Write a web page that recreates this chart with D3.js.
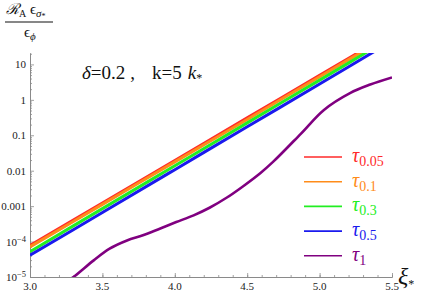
<!DOCTYPE html>
<html>
<head>
<meta charset="utf-8">
<script src="https://cdn.jsdelivr.net/npm/d3@7"></script>
<style>
  body { margin: 0; background: #fff; }
  svg { display: block; }
</style>
</head>
<body>
<div class="canvas"></div>
<script>
'use strict';

// Data
var xiStraight = [3.0, 3.5, 4.0, 4.5, 5.0, 5.5];
var tau005 = [7.8e-5, 1.23e-3, 0.0195, 0.31, 4.9, 78];
var tau01 = [7.1e-5, 1.12e-3, 0.0178, 0.28, 4.5, 71];
var tau03 = [5.2e-5, 8.5e-4, 0.0138, 0.224, 3.6, 59];
var tau05 = [4.1e-5, 6.6e-4, 0.0107, 0.174, 2.8, 46];

var xiTau1 = [3.25, 3.30, 3.44, 3.55, 3.67, 3.78, 3.90, 4.01, 4.13, 4.24, 4.36, 4.47, 4.59, 4.68, 4.87, 5.03, 5.21, 5.35, 5.5];
var tau1 = [7.5e-6, 1.0e-5, 2.95e-5, 6.3e-5, 1.07e-4, 1.5e-4, 2.35e-4, 3.55e-4, 5.5e-4, 9.0e-4, 1.75e-3, 3.6e-3, 8.5e-3, 0.018, 0.11, 0.52, 1.55, 2.7, 4.3];

var seriesNames = ['0.05', '0.1', '0.3', '0.5', '1'];
var seriesColors = ['#ff2a2a', '#ff8c1a', '#22ee22', '#1a1aee', '#800080'];

var xTicks = [3.0, 3.5, 4.0, 4.5, 5.0, 5.5];
var xTickLabels = ['3.0', '3.5', '4.0', '4.5', '5.0', '5.5'];
var yTicks = [1e-5, 1e-4, 1e-3, 1e-2, 1e-1, 1, 10];
var yTickLabels = [['10', '\u22125'], ['10', '\u22124'], ['0.001'], ['0.01'], ['0.1'], ['1'], ['10']];

var serif = 'Liberation Serif';

// Svg
var svg = d3.select('.canvas').append('svg').attr('width', 421).attr('height', 294)
  .style('font-family', serif);

var margin = { top: 53, right: 29, left: 30, bottom: 17 };
var graphWidth = 421 - margin.left - margin.right;
var graphHeight = 294 - margin.top - margin.bottom;

// Scales
var x = d3.scaleLinear().domain([3, 5.5]).range([margin.left, margin.left + graphWidth]);
var y = d3.scaleLog().domain([1e-5, 21]).range([margin.top + graphHeight, margin.top]);

// Clip for curves
svg.append('clipPath').attr('id', 'clip').append('rect')
  .attr('x', margin.left).attr('y', margin.top)
  .attr('width', graphWidth).attr('height', graphHeight);

// Axes (ticks pointing inward, Mathematica style)
var axisColor = '#8a8a8a';
var xMinor = d3.range(30, 56).map(function (d) { return d / 10; });
var yMinor = [];
d3.range(-5, 2).forEach(function (e) {
  d3.range(2, 10).forEach(function (k) {
    var v = k * Math.pow(10, e);
    if (v < 21) yMinor.push(v);
  });
});

var xAxisGroup = svg.append('g').attr('transform', 'translate(0, ' + (margin.top + graphHeight) + ')');
xAxisGroup.call(d3.axisBottom(x).tickValues(xMinor).tickSize(-2).tickSizeOuter(0).tickFormat(''));
xAxisGroup.append('g').call(d3.axisBottom(x).tickValues(xTicks).tickSize(-4).tickSizeOuter(0).tickFormat(''));

var yAxisGroup = svg.append('g').attr('transform', 'translate(' + margin.left + ', 0)');
yAxisGroup.call(d3.axisLeft(y).tickValues(yMinor).tickSize(-2).tickSizeOuter(0).tickFormat(''));
yAxisGroup.append('g').call(d3.axisLeft(y).tickValues(yTicks).tickSize(-4).tickSizeOuter(0).tickFormat(''));

svg.selectAll('.domain').attr('stroke', axisColor).attr('stroke-width', 1);
svg.selectAll('.tick line').attr('stroke', axisColor).attr('stroke-width', 0.8);

// Tick labels
svg.append('g').selectAll('text').data(xTicks).enter().append('text')
  .attr('x', function (d) { return x(d); })
  .attr('y', margin.top + graphHeight + 13)
  .attr('text-anchor', 'middle')
  .style('font-family', serif)
  .attr('font-size', 11)
  .attr('fill', '#222')
  .text(function (d, i) { return xTickLabels[i]; });

var yLab = svg.append('g').selectAll('text').data(yTicks).enter().append('text')
  .attr('x', margin.left - 4)
  .attr('y', function (d) { return y(d) + 4; })
  .attr('text-anchor', 'end')
  .style('font-family', serif)
  .attr('font-size', 11)
  .attr('fill', '#222');
yLab.each(function (d, i) {
  var t = d3.select(this);
  var lab = yTickLabels[i];
  t.append('tspan').text(lab[0]);
  if (lab.length > 1) {
    t.append('tspan').attr('dy', -4).attr('font-size', 8.5).text(lab[1]);
  }
});

// Curves
var line = d3.line()
  .x(function (d) { return x(d[0]); })
  .y(function (d) { return y(d[1]); })
  .curve(d3.curveCatmullRom.alpha(0.5));

var straightSets = [tau005, tau01, tau03, tau05];
var curves = svg.append('g').attr('clip-path', 'url(#clip)');
straightSets.forEach(function (vals, i) {
  curves.append('path')
    .datum(d3.zip(xiStraight, vals))
    .attr('d', line)
    .attr('fill', 'none')
    .attr('stroke', seriesColors[i])
    .attr('stroke-width', 3);
});
curves.append('path')
  .datum(d3.zip(xiTau1, tau1))
  .attr('d', line)
  .attr('fill', 'none')
  .attr('stroke', seriesColors[4])
  .attr('stroke-width', 2.6);

// Legend
var legend = svg.append('g').attr('transform', 'translate(304, 157)');
seriesNames.forEach(function (name, i) {
  var row = legend.append('g').attr('transform', 'translate(0, ' + i * 24.7 + ')');
  row.append('line').attr('x1', 0).attr('x2', 38).attr('y1', 0).attr('y2', 0)
    .attr('stroke', seriesColors[i]).attr('stroke-width', 1.6);
  var txt = row.append('text').attr('x', 48).attr('y', 5).attr('fill', seriesColors[i]).style('font-family', serif);
  txt.append('tspan').attr('font-size', 20).attr('font-style', 'italic').text('\u03c4');
  txt.append('tspan').attr('font-size', 14).attr('dy', 4).text(name);
});

// Annotation
var note = svg.append('text').attr('x', 82).attr('y', 79).attr('font-size', 19)
  .attr('fill', '#111').style('font-family', serif);
note.append('tspan').attr('font-style', 'italic').text('\u03b4');
note.append('tspan').text('=0.2');
note.append('tspan').attr('dx', 5).text(',');
note.append('tspan').attr('dx', 17).text('k=5');
note.append('tspan').attr('dx', 6).attr('font-style', 'italic').text('k');
note.append('tspan').attr('font-size', 12).attr('dy', 3).text('*');

// Y axis label (fraction)
var num = svg.append('text').attr('x', 6).attr('y', 14).attr('font-size', 15).attr('fill', '#111').style('font-family', serif);
num.append('tspan').attr('font-style', 'italic').text('\u211b');
num.append('tspan').attr('font-size', 10).attr('dy', 3).text('A');
num.append('tspan').attr('dy', -3).text(' \u03f5');
num.append('tspan').attr('font-size', 11).attr('font-style', 'italic').attr('dy', 3).text('\u03c3');
num.append('tspan').attr('font-size', 8).attr('dy', 2).text('*');
svg.append('line').attr('x1', 5).attr('x2', 53).attr('y1', 22).attr('y2', 22)
  .attr('stroke', '#111').attr('stroke-width', 1.2);
var den = svg.append('text').attr('x', 24).attr('y', 37).attr('font-size', 15).attr('fill', '#111').style('font-family', serif);
den.append('tspan').text('\u03f5');
den.append('tspan').attr('font-size', 11).attr('font-style', 'italic').attr('dy', 3).text('\u03d5');

// X axis label
var xl = svg.append('text').attr('x', 398).attr('y', 284).attr('fill', '#111').style('font-family', serif);
xl.append('tspan').attr('font-size', 24).attr('font-style', 'italic').text('\u03be');
xl.append('tspan').attr('font-size', 12).attr('dy', 4).text('*');
</script>
</body>
</html>
